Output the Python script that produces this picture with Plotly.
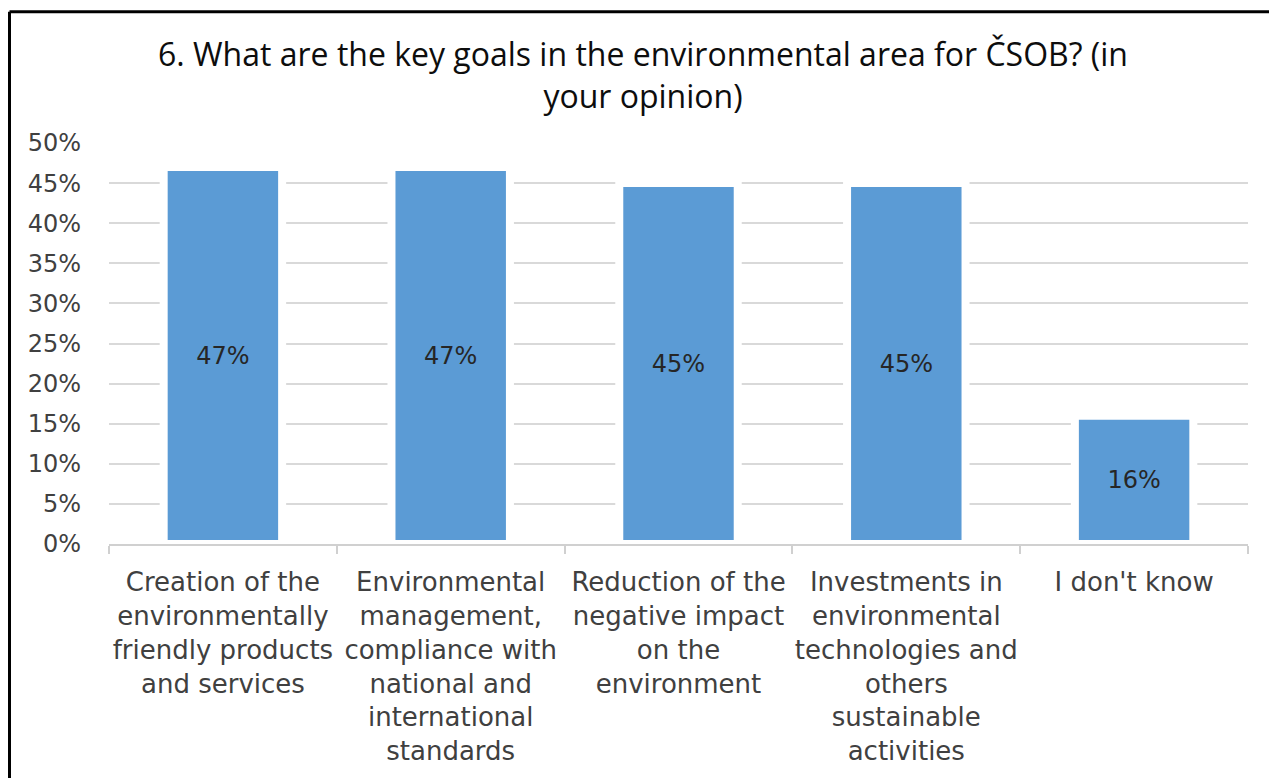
import plotly.graph_objects as go

# Survey answers and their shares
categories = [
    "Creation of the<br>environmentally<br>friendly products<br>and services",
    "Environmental<br>management,<br>compliance with<br>national and<br>international<br>standards",
    "Reduction of the<br>negative impact<br>on the<br>environment",
    "Investments in<br>environmental<br>technologies and<br>others<br>sustainable<br>activities",
    "I don't know",
]
shares = [0.47, 0.47, 0.45, 0.45, 0.16]
y_ticks = [0, 0.05, 0.10, 0.15, 0.20, 0.25, 0.30, 0.35, 0.40, 0.45, 0.50]
y_tick_labels = ["0%", "5%", "10%", "15%", "20%", "25%", "30%", "35%", "40%", "45%", "50%"]

W, H = 1269, 778
L, R, T, B = 109, 21, 143, 232
AXIS_FONT = "DejaVu Sans"
TITLE_FONT = "Open Sans"

fig = go.Figure(
    go.Bar(
        x=categories,
        y=shares,
        width=0.52,
        marker=dict(color="#5b9bd5", line=dict(color="white", width=8)),
        text=[f"{v:.0%}" for v in shares],
        textposition="inside",
        insidetextanchor="middle",
        textfont=dict(family=AXIS_FONT, size=24, color="#262626"),
        cliponaxis=False,
    )
)

# chart frame: left and top edges of the surrounding box
plot_w = W - L - R
plot_h = H - T - B
fx = (9.5 - L) / plot_w
fy = (H - B - 11) / plot_h
fig.add_shape(type="line", xref="paper", yref="paper", x0=fx, x1=fx, y0=-2, y1=fy,
              line=dict(color="black", width=3))
fig.add_shape(type="line", xref="paper", yref="paper", x0=fx, x1=2, y0=fy, y1=fy,
              line=dict(color="black", width=3))

fig.update_layout(
    width=W,
    height=H,
    margin=dict(l=L, r=R, t=T, b=B),
    paper_bgcolor="white",
    plot_bgcolor="white",
    showlegend=False,
    title=dict(
        text="6. What are the key goals in the environmental area for ČSOB? (in<br>your opinion)",
        x=643 / W,
        xanchor="center",
        y=1 - 66 / H,
        yanchor="middle",
        font=dict(family=TITLE_FONT, size=32, color="#0d0d0d"),
    ),
    font=dict(family=AXIS_FONT, size=24, color="#404040"),
)

fig.update_xaxes(
    tickson="boundaries",
    ticks="outside",
    ticklen=8,
    tickwidth=2,
    tickcolor="#d0d0d0",
    showline=True,
    linecolor="#d0d0d0",
    linewidth=2,
    showgrid=False,
    ticklabelstandoff=14,
    tickfont=dict(family=AXIS_FONT, size=26, color="#404040"),
    tickangle=0,
)
fig.update_yaxes(
    range=[0, 0.5],
    tickvals=y_ticks,
    ticktext=y_tick_labels,
    showgrid=True,
    gridcolor="#d9d9d9",
    gridwidth=2,
    zeroline=False,
    ticks="",
    ticklabelstandoff=27,
    tickfont=dict(family=AXIS_FONT, size=24, color="#404040"),
)

fig.write_html("out.html")
